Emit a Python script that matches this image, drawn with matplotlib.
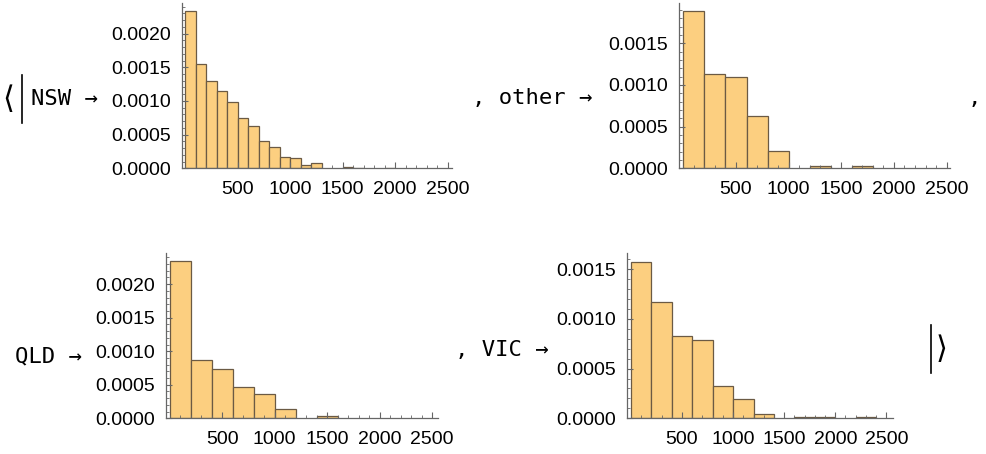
import matplotlib
matplotlib.use("Agg")
import matplotlib.pyplot as plt
from matplotlib.lines import Line2D
import numpy as np

W, H = 986, 454

# ---- data (density per bin) ----
nsw_width = 100
nsw_heights = [0.00234, 0.001545, 0.00129, 0.001144, 0.00098, 0.000748, 0.000629,
               0.0004, 0.000317, 0.000163, 0.000149, 0.00005, 0.000074, 0.0, 0.0,
               0.000015, 0.000006, 0.0, 0.0, 0.000006]

other_width = 200
other_heights = [0.001888, 0.001137, 0.0011, 0.00063, 0.000209, 0.0, 0.000028, 0.0, 0.000028]

qld_width = 200
qld_heights = [0.002343, 0.000866, 0.000731, 0.000468, 0.000358, 0.000134, 0.0, 0.00003]

vic_width = 200
vic_heights = [0.001577, 0.001175, 0.000824, 0.000787, 0.000321, 0.000191, 0.0000435,
               0.0, 0.00001, 0.00001, 0.0, 0.00001]

x_ticks = [500, 1000, 1500, 2000, 2500]
y_ticks = [0.0, 0.0005, 0.0010, 0.0015, 0.0020]

FACE = "#FCCF80"
EDGE = "#6B5A44"
AXC = "#666666"

fig = plt.figure(figsize=(W / 100, H / 100), dpi=100)


def add_ax(left, right, top, bottom):
    return fig.add_axes([left / W, 1 - bottom / H, (right - left) / W, (bottom - top) / H])


def hist(ax, width, heights, xlim, ytop):
    edges = np.arange(len(heights)) * width
    for e, h in zip(edges, heights):
        if h > 0:
            ax.bar(e, h, width=width, align="edge", color=FACE, edgecolor=EDGE, linewidth=0.9)
    ax.set_xlim(*xlim)
    ax.set_ylim(0, ytop)
    for s in ["top", "right"]:
        ax.spines[s].set_visible(False)
    for s in ["left", "bottom"]:
        ax.spines[s].set_color(AXC)
        ax.spines[s].set_linewidth(0.9)
    ax.set_xticks(x_ticks)
    ax.set_xticklabels([str(t) for t in x_ticks])
    ax.set_xticks([t for t in range(0, 2600, 100) if t not in x_ticks], minor=True)
    yt = [t for t in y_ticks if t <= ytop]
    ax.set_yticks(yt)
    ax.set_yticklabels([f"{t:.4f}" for t in yt])
    ax.set_yticks([t for t in np.arange(0, ytop, 0.0001)], minor=True)
    ax.tick_params(which="major", direction="in", length=4, width=0.8, color=AXC,
                   labelsize=14, pad=8)
    ax.tick_params(which="minor", direction="in", length=2, width=0.6, color=AXC)
    ax.tick_params(axis="x", which="major", pad=9)
    for lab in ax.get_xticklabels() + ax.get_yticklabels():
        lab.set_fontfamily("Liberation Sans")
    ax.patch.set_visible(False)


ax1 = add_ax(181.7, 452.3, 3.3, 168.3)
hist(ax1, nsw_width, nsw_heights, (-32, 2545), 0.00245)
ax2 = add_ax(679.3, 950, 3.3, 168.3)
hist(ax2, other_width, other_heights, (-38, 2532), 0.00198)
ax3 = add_ax(165.7, 438.3, 253.3, 418.3)
hist(ax3, qld_width, qld_heights, (-38, 2558), 0.00246)
ax4 = add_ax(627, 893.3, 253.3, 418.3)
hist(ax4, vic_width, vic_heights, (-38, 2568), 0.00166)

MONO = "DejaVu Sans Mono"
FS = 16


def txt(x, y, s, ha="left", family=MONO, size=FS):
    fig.text(x / W, 1 - y / H, s, ha=ha, va="center", family=family, fontsize=size)


txt(2, 100, "⟨", family="DejaVu Sans", size=22)
fig.add_artist(Line2D([21.7 / W, 21.7 / W], [1 - 75 / H, 1 - 123 / H], color="black", lw=1.2))
txt(31, 99, "NSW →")
txt(472, 98, ", other →")
txt(968, 98, ",")
txt(15, 356, "QLD →")
txt(455, 350, ", VIC →")
fig.add_artist(Line2D([931 / W, 931 / W], [1 - 325 / H, 1 - 373 / H], color="black", lw=1.2))
txt(936, 350, "⟩", family="DejaVu Sans", size=22)

fig.savefig("out.png", dpi=100)
